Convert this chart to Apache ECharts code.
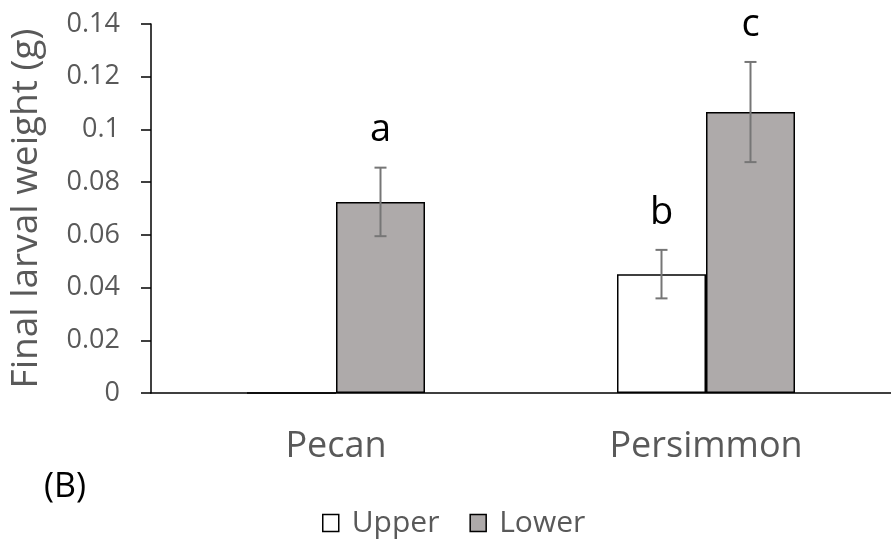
<!DOCTYPE html>
<html>
<head>
<meta charset="utf-8">
<script src="https://cdn.jsdelivr.net/npm/echarts@6/dist/echarts.min.js"></script>
<style>
html,body{margin:0;padding:0;background:#fff;}
#chart{width:891px;height:542px;}
</style>
</head>
<body>
<div id="chart"></div>
<script>
// ---- data ----
const categories = ['Pecan', 'Persimmon'];
const seriesNames = ['Upper', 'Lower'];
const upperMeans = [0, 0.0451];
const lowerMeans = [0.0725, 0.1066];
const upperErr = [0, 0.0092];
const lowerErr = [0.013, 0.019];
const upperLetters = ['', 'b'];
const lowerLetters = ['a', 'c'];
const yTicks = { min: 0, max: 0.14, interval: 0.02 };
const panelLabel = '(B)';
const yTitle = 'Final larval weight (g)';

const FONT = '"Open Sans", "Noto Sans", sans-serif';
const BAR_W = 89;
const upperColor = '#ffffff';
const lowerColor = '#aeaaaa';

const chart = echarts.init(document.getElementById('chart'), null, { renderer: 'canvas' });

function errorSeries(name, means, errs, letters, offset) {
  const data = means.map((m, i) => [i, m, errs[i]]);
  return {
    type: 'custom',
    name: name + ' err',
    silent: true,
    z: 10,
    data: data,
    renderItem: function (params, api) {
      const idx = api.value(0);
      const m = api.value(1);
      const e = api.value(2);
      const letter = letters[idx];
      const children = [];
      const base = api.coord([idx, m]);
      const x = base[0] + offset;
      let topY = base[1];
      if (e > 0) {
        const hi = api.coord([idx, m + e])[1];
        const lo = api.coord([idx, m - e])[1];
        topY = hi;
        const st = { stroke: '#767676', lineWidth: 2 };
        children.push({ type: 'line', shape: { x1: x, y1: hi, x2: x, y2: lo }, style: st });
        children.push({ type: 'line', shape: { x1: x - 6, y1: hi, x2: x + 6, y2: hi }, style: st });
        children.push({ type: 'line', shape: { x1: x - 6, y1: lo, x2: x + 6, y2: lo }, style: st });
      }
      if (letter) {
        children.push({
          type: 'text',
          style: {
            x: x, y: topY - 18, text: letter,
            fill: '#000', font: '38px ' + FONT,
            textAlign: 'center', textVerticalAlign: 'bottom'
          }
        });
      }
      return { type: 'group', children: children };
    }
  };
}

const option = {
  backgroundColor: '#fff',
  animation: false,
  grid: { left: 149, top: 24, bottom: 149, right: -7, containLabel: false },
  legend: {
    left: 317, top: 503,
    itemWidth: 16, itemHeight: 17, itemGap: 30,
    icon: 'rect',
    textStyle: { fontFamily: FONT, fontSize: 30, color: '#595959', padding: [0, 0, 0, 8] },
    data: [
      { name: 'Upper', itemStyle: { color: upperColor, borderColor: '#000', borderWidth: 1.5 } },
      { name: 'Lower', itemStyle: { color: lowerColor, borderColor: '#000', borderWidth: 1.5 } }
    ]
  },
  xAxis: {
    type: 'category',
    data: categories,
    axisLine: { lineStyle: { color: '#000', width: 1.5 } },
    axisTick: { show: false },
    axisLabel: { fontFamily: FONT, fontSize: 36, color: '#595959', margin: 36 }
  },
  yAxis: {
    type: 'value',
    min: yTicks.min, max: yTicks.max, interval: yTicks.interval,
    name: yTitle,
    nameLocation: 'middle',
    nameGap: 106,
    nameTextStyle: { fontFamily: FONT, fontSize: 37, color: '#595959' },
    axisLine: { show: true, lineStyle: { color: '#000', width: 1.5 } },
    axisTick: { show: true, length: 10, lineStyle: { color: '#000', width: 1.5 } },
    splitLine: { show: false },
    axisLabel: { fontFamily: FONT, fontSize: 27, color: '#595959', margin: 31 }
  },
  series: [
    {
      type: 'bar', name: seriesNames[0], data: upperMeans,
      barWidth: BAR_W, barGap: '0%',
      itemStyle: { color: upperColor, borderColor: '#000', borderWidth: 1.5 }
    },
    {
      type: 'bar', name: seriesNames[1], data: lowerMeans,
      barWidth: BAR_W, barGap: '0%',
      itemStyle: { color: lowerColor, borderColor: '#000', borderWidth: 1.5 }
    },
    errorSeries('Upper', upperMeans, upperErr, upperLetters, -BAR_W / 2),
    errorSeries('Lower', lowerMeans, lowerErr, lowerLetters, BAR_W / 2)
  ],
  graphic: [
    {
      type: 'text', left: 44, top: 470,
      style: { text: panelLabel, fill: '#000', font: '34px ' + FONT }
    }
  ]
};
chart.setOption(option);
</script>
</body>
</html>
